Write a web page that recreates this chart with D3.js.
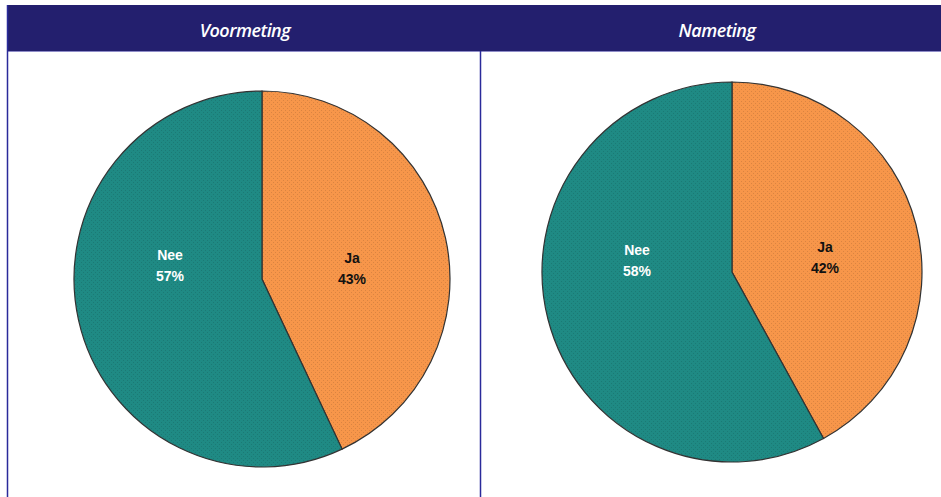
<!DOCTYPE html>
<html><head><meta charset="utf-8">
<script src="https://cdn.jsdelivr.net/npm/d3@7"></script>
<style>body{margin:0;background:#fff}svg{display:block}</style>
</head><body>
<script>
const panels = ["Voormeting", "Nameting"];
const categories = ["Ja", "Nee"];
const voormeting = [43, 57];
const nameting = [42, 58];
const seriesValues = [voormeting, nameting];
const colors = {Ja: "#F7964A", Nee: "#1F8A84"};
const labelColors = {Ja: "#111", Nee: "#fff"};

const W = 941, H = 497;
const svg = d3.select("body").append("svg").attr("width", W).attr("height", H);
const defs = svg.append("defs");
categories.forEach(c => {
  const p = defs.append("pattern").attr("id", "pat" + c).attr("patternUnits", "userSpaceOnUse")
    .attr("width", 4).attr("height", 4);
  p.append("rect").attr("width", 4).attr("height", 4).attr("fill", colors[c]);
  p.append("rect").attr("x", 1).attr("y", 1).attr("width", 1).attr("height", 1)
    .attr("fill", d3.color(colors[c]).darker(0.35));
  p.append("rect").attr("x", 3).attr("y", 3).attr("width", 1).attr("height", 1)
    .attr("fill", d3.color(colors[c]).darker(0.35));
});

// header band
svg.append("rect").attr("x", 7).attr("y", 5).attr("width", W - 7).attr("height", 46).attr("fill", "#231F6E");
svg.append("line").attr("x1", 7).attr("x2", W).attr("y1", 51.5).attr("y2", 51.5).attr("stroke", "#8F8DC8").attr("stroke-width", 1);
svg.append("line").attr("x1", 7.5).attr("x2", 7.5).attr("y1", 5).attr("y2", H).attr("stroke", "#2A2A9A").attr("stroke-width", 1.5);
svg.append("line").attr("x1", 480.5).attr("x2", 480.5).attr("y1", 51).attr("y2", H).attr("stroke", "#2A2A9A").attr("stroke-width", 1.5);

const layout = [
  {hx: 245, cx: 262, cy: 279, r: 188, lab: {Ja: [352, 263], Nee: [170, 260]}},
  {hx: 717, cx: 732, cy: 272, r: 190, lab: {Ja: [825, 252], Nee: [637, 255]}}
];

const pie = d3.pie().sort(null).value(d => d.v);
panels.forEach((name, i) => {
  const L = layout[i];
  svg.append("text").attr("x", L.hx).attr("y", 37).attr("text-anchor", "middle")
    .attr("fill", "#fff").attr("font-family", "'Open Sans', sans-serif")
    .attr("font-style", "italic").attr("font-weight", 600).attr("font-size", 18)
    .attr("letter-spacing", -0.5).text(name);
  const data = categories.map((c, k) => ({c, v: seriesValues[i][k]}));
  const arc = d3.arc().innerRadius(0).outerRadius(L.r);
  const g = svg.append("g").attr("transform", `translate(${L.cx},${L.cy})`);
  g.selectAll("path").data(pie(data)).join("path")
    .attr("d", arc).attr("fill", d => `url(#pat${d.data.c})`)
    .attr("stroke", "#333").attr("stroke-width", 1.2);
  data.forEach(d => {
    const [x, y] = L.lab[d.c];
    const t = svg.append("text").attr("x", x).attr("y", y).attr("text-anchor", "middle")
      .attr("fill", labelColors[d.c]).attr("font-family", "'Liberation Sans', Arial, sans-serif")
      .attr("font-weight", "bold").attr("font-size", 14);
    t.append("tspan").attr("x", x).attr("dy", 0).text(d.c);
    t.append("tspan").attr("x", x).attr("dy", 21).text(d.v + "%");
  });
});
</script>
</body></html>
